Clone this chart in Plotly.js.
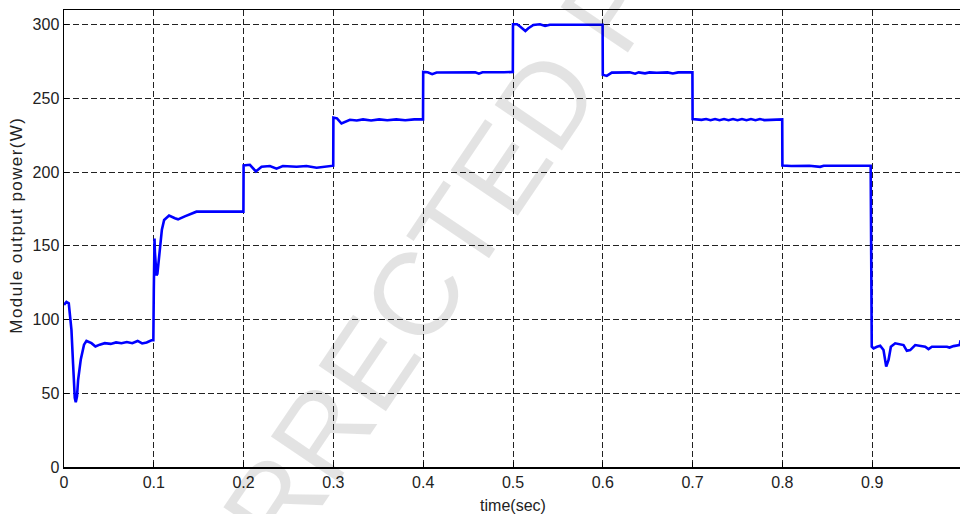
<!DOCTYPE html>
<html>
<head>
<meta charset="utf-8">
<script src="https://cdn.plot.ly/plotly-3.0.1.min.js"></script>
<style>
  html, body { margin: 0; padding: 0; overflow: hidden; background: #fff; }
  #chart { width: 962px; height: 514px; }
</style>
</head>
<body>
<div id="chart"></div>
<script>
// time (s)
const timeSec = [
  0, 0.0027, 0.0053, 0.0064, 0.0083, 0.0101, 0.012, 0.0131, 0.0145, 0.0157,
  0.0187, 0.0223, 0.025, 0.0306, 0.035, 0.0398, 0.0454, 0.052, 0.058, 0.064,
  0.07, 0.076, 0.082, 0.087, 0.092, 0.0974, 0.0995,
  0.1, 0.1003, 0.1008, 0.1012, 0.102, 0.103, 0.104, 0.1055, 0.107, 0.109,
  0.1115, 0.117, 0.1235, 0.127, 0.1345, 0.1405, 0.1475, 0.1998,
  0.2, 0.207, 0.2137, 0.22, 0.2293, 0.2367, 0.2437, 0.259, 0.27, 0.2813, 0.2961, 0.2998,
  0.3, 0.304, 0.309, 0.3128, 0.3184, 0.326, 0.333, 0.342, 0.351, 0.36, 0.37, 0.38, 0.39, 0.3998,
  0.4, 0.405, 0.41, 0.415, 0.43, 0.445, 0.458, 0.462, 0.466, 0.49, 0.4998,
  0.5, 0.5045, 0.5082, 0.5138, 0.5171, 0.5227, 0.53, 0.5357, 0.541, 0.5998,
  0.6, 0.6044, 0.61, 0.63, 0.636, 0.64, 0.647, 0.652, 0.66, 0.672, 0.678, 0.684, 0.6998,
  0.7, 0.71, 0.715, 0.72, 0.725, 0.73, 0.735, 0.74, 0.745, 0.75, 0.755, 0.76, 0.765, 0.77, 0.775, 0.78, 0.79, 0.7998,
  0.8, 0.81, 0.83, 0.842, 0.846, 0.87, 0.8983,
  0.8995, 0.9015, 0.9053, 0.9089, 0.9126, 0.9156, 0.9182, 0.9208, 0.9256, 0.9349,
  0.9386, 0.9423, 0.9479, 0.959, 0.9627, 0.9665, 0.9832, 0.9861, 0.9906, 0.9973, 0.9985
];
// module output power (W)
const powerW = [
  110, 112, 111, 105, 93, 70, 47, 44, 48, 59,
  73, 83, 85.5, 84, 81.7, 83, 84, 83.5, 84.5, 84,
  84.8, 84, 85.5, 83.8, 84.5, 86, 86,
  120, 150, 155, 146, 134, 130, 131, 140, 150, 161,
  167.5, 170.5, 168.7, 168, 170, 171.6, 173.2, 173.2,
  204.5, 205, 200.5, 203.7, 204.2, 202.4, 204.2, 203.7, 204.2, 203, 204.4, 204.4,
  237, 236.5, 233, 234.2, 235.5, 235, 235.8, 235, 235.8, 235.2, 235.8, 235.2, 235.8, 235.8,
  268, 267.8, 266.5, 267.6, 267.8, 267.5, 267.8, 266.8, 267.8, 267.8, 268,
  300.3, 300.3, 298.7, 295.8, 297.6, 299.9, 300.3, 299.2, 300, 300,
  266, 265.3, 267.5, 267.7, 266.8, 267.7, 267, 267.7, 267.4, 267.7, 266.9, 267.7, 267.8,
  236, 235.5, 236, 235.2, 236, 235.2, 236, 235.2, 236, 235.2, 236, 235.2, 236, 235.2, 236, 235.3, 235.8, 235.8,
  204.5, 204.2, 204.3, 203.6, 204.3, 204.3, 204.3,
  81.6, 80.5, 81.6, 82.3, 79.4, 68.1, 72.6, 81.6, 83.9, 82.7,
  78.8, 79.3, 82.7, 81.6, 80, 81.6, 81.6, 81, 82, 82.7, 86
];
const xTickVals = [0, 0.1, 0.2, 0.3, 0.4, 0.5, 0.6, 0.7, 0.8, 0.9, 1];
const xTickText = ['0', '0.1', '0.2', '0.3', '0.4', '0.5', '0.6', '0.7', '0.8', '0.9', '1'];
const yTickVals = [0, 50, 100, 150, 200, 250, 300];
const yTickText = ['0', '50', '100', '150', '200', '250', '300'];
const xTitle = 'time(sec)';
const yTitle = 'Module output power(W)';
const watermark = 'CORRECTED PROOF';

const fontFam = 'Liberation Sans, Arial, sans-serif';
const tickFont = { family: fontFam, size: 16, color: '#222' };

const trace = {
  x: timeSec, y: powerW, type: 'scatter', mode: 'lines',
  line: { color: '#0000ff', width: 2.6 },
  hoverinfo: 'skip'
};

const axisCommon = {
  showline: true, linecolor: '#000', linewidth: 1.5, mirror: true,
  showgrid: true, gridcolor: '#222', gridwidth: 1, griddash: '6px,3px',
  zeroline: false, ticks: 'inside', ticklen: 5, tickcolor: '#000',
  tickfont: tickFont, tickmode: 'array'
};

const layout = {
  width: 962, height: 514,
  margin: { l: 64, r: 0, t: 10, b: 47 },
  paper_bgcolor: '#fff', plot_bgcolor: '#fff',
  showlegend: false,
  xaxis: Object.assign({}, axisCommon, {
    range: [0, 1], tickvals: xTickVals, ticktext: xTickText,
    title: { text: xTitle, font: { family: fontFam, size: 16, color: '#222' }, standoff: 10 }
  }),
  yaxis: Object.assign({}, axisCommon, {
    range: [0, 310], tickvals: yTickVals, ticktext: yTickText
  }),
  annotations: [
    {
      text: watermark, xref: 'paper', yref: 'paper', x: 0.472, y: 0.612,
      xanchor: 'center', yanchor: 'middle', showarrow: false, textangle: -56,
      font: { family: fontFam, size: 118, color: 'rgba(0,0,0,0.11)' }
    },
    {
      text: yTitle, xref: 'paper', yref: 'paper', x: 0, y: 0.529, xshift: -48,
      xanchor: 'center', yanchor: 'middle', showarrow: false, textangle: -90,
      font: { family: fontFam, size: 17, color: '#222' }
    }
  ]
};

Plotly.newPlot('chart', [trace], layout, { displayModeBar: false, staticPlot: true }).then(function () {
  // lengthen the rotated y title a little, like the stretched reference lettering
  document.querySelectorAll('.annotation-text').forEach(function (t) {
    if (t.textContent === yTitle) t.setAttribute('letter-spacing', '1.4px');
  });
});
</script>
</body>
</html>
